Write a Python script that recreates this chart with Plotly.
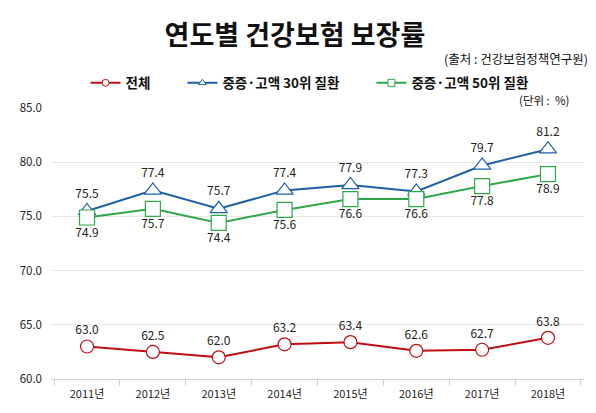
import plotly.graph_objects as go

years = ["2011년", "2012년", "2013년", "2014년", "2015년", "2016년", "2017년", "2018년"]
total = [63.0, 62.5, 62.0, 63.2, 63.4, 62.6, 62.7, 63.8]
top30 = [75.5, 77.4, 75.7, 77.4, 77.9, 77.3, 79.7, 81.2]
top50 = [74.9, 75.7, 74.4, 75.6, 76.6, 76.6, 77.8, 78.9]

names = ["전체", "중증·고액 30위 질환", "중증·고액 50위 질환"]
colors = ["#c00d14", "#1f5fa8", "#2ea84a"]
symbols = ["circle", "triangle-up", "square"]
sizes = [13, 15, 15]
positions = ["top center", "top center", "bottom center"]

FONT = "Noto Sans CJK KR"

fig = go.Figure()

for vals, name, col, sym, sz, pos in zip([total, top30, top50], names, colors, symbols, sizes, positions):
    fig.add_trace(go.Scatter(
        x=years, y=vals, name=name, mode="lines+markers+text", showlegend=False,
        line=dict(color=col, width=2),
        marker=dict(symbol=sym, size=sz, color="white", line=dict(color=col, width=1.2)),
        text=[f"{v:.1f}" for v in vals], textposition=pos,
        textfont=dict(size=12, color="#222"),
    ))

# legend-only entries with small markers, like the original
pad = ["\u3000\u3000", "\u3000\u3000", ""]
for name, col, sym, p in zip(names, colors, symbols, pad):
    fig.add_trace(go.Scatter(
        x=[None], y=[None], name=f"<b>{name}</b>{p}", mode="lines+markers",
        line=dict(color=col, width=2),
        marker=dict(symbol=sym, size=7, color="white", line=dict(color=col, width=1)),
    ))

fig.update_layout(
    width=588, height=405,
    margin=dict(l=37, r=12, t=100, b=33),
    paper_bgcolor="white", plot_bgcolor="white",
    font=dict(family=FONT, size=11, color="#222"),
    showlegend=True,
    legend=dict(orientation="h", x=0.486, xanchor="center", y=1.092, yanchor="middle",
                font=dict(family=FONT, size=13.5, color="#111"), itemwidth=30),
    title=dict(text="<b>연도별 건강보험 보장률</b>", x=0.488, xanchor="center",
               y=0.933, yanchor="middle", font=dict(family=FONT, size=27, color="#111")),
    annotations=[
        dict(text="(출처 : 건강보험정책연구원)", xref="paper", yref="paper",
             x=1.012, y=1.184, xanchor="right", yanchor="middle", showarrow=False,
             font=dict(family=FONT, size=12.5, color="#111")),
        dict(text="(단위 :  %)", xref="paper", yref="paper",
             x=0.975, y=1.029, xanchor="right", yanchor="middle", showarrow=False,
             font=dict(family=FONT, size=11.5, color="#111")),
    ],
)

fig.update_xaxes(
    type="category", showgrid=False, showline=True, linecolor="#d0d0d0", linewidth=1,
    ticks="outside", tickson="boundaries", ticklen=6, tickcolor="#d0d0d0",
    ticklabelstandoff=5,
    tickfont=dict(family=FONT, size=11, color="#222"),
)
fig.update_yaxes(
    range=[60, 85], dtick=5, tickformat=".1f", showgrid=True, gridcolor="#e8e8e8",
    zeroline=False, showline=False, ticks="", ticklabelstandoff=8,
    tickfont=dict(family=FONT, size=11.5, color="#222"),
)

fig.write_html("out.html")
